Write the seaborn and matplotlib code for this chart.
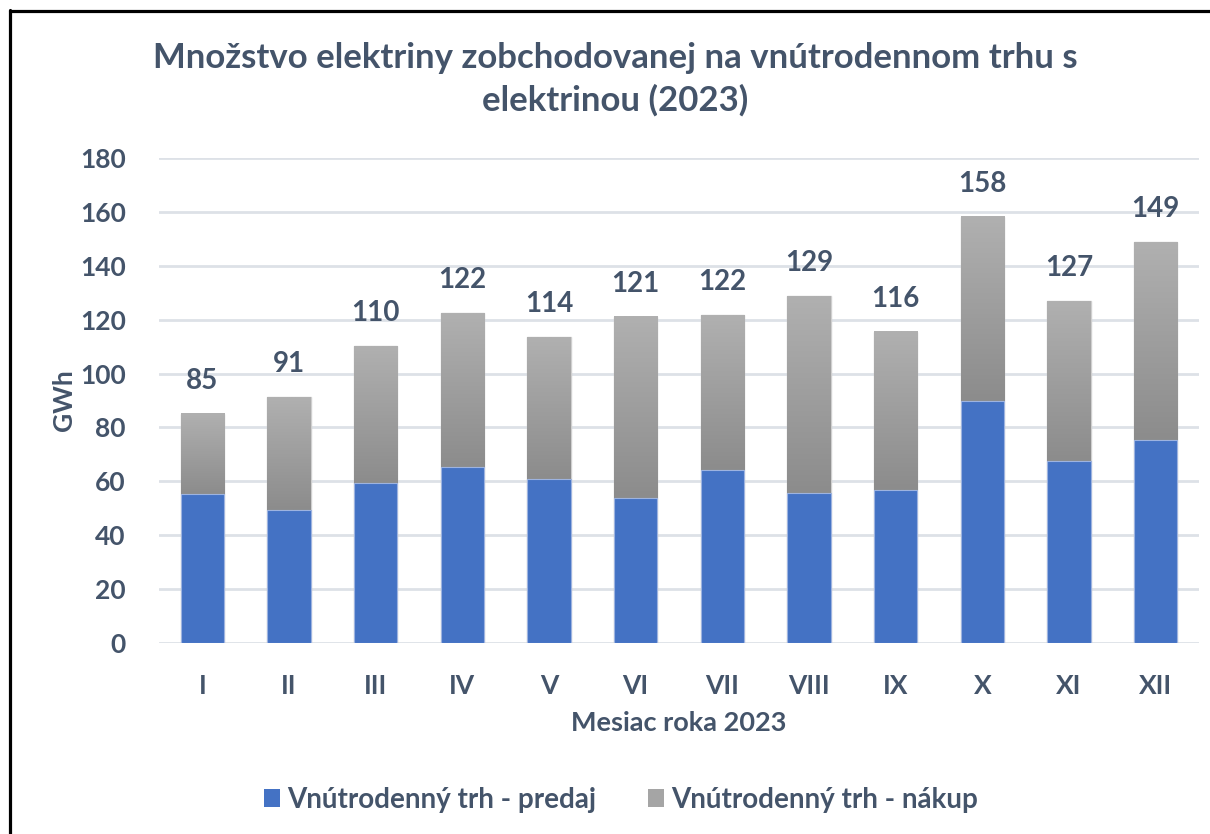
import numpy as np
import pandas as pd
import matplotlib
matplotlib.use("Agg")
import matplotlib.pyplot as plt
import seaborn as sns
from matplotlib.patches import Patch
from matplotlib.lines import Line2D
from matplotlib.colors import LinearSegmentedColormap

# Údaje (GWh) odčítané z grafu
mesiace = ["I", "II", "III", "IV", "V", "VI", "VII", "VIII", "IX", "X", "XI", "XII"]
predaj = [55.2, 49.5, 59.5, 65.3, 60.9, 53.8, 64.2, 55.7, 56.8, 89.8, 67.6, 75.4]
nakup = [29.7, 41.9, 50.8, 57.1, 52.7, 67.3, 57.5, 73.1, 58.8, 68.3, 59.2, 73.4]

df = pd.DataFrame({"mesiac": mesiace, "predaj": predaj, "nakup": nakup})
df["spolu"] = df["predaj"] + df["nakup"]

sns.set_style("white")
plt.rcParams["font.family"] = ["Lato", "DejaVu Sans"]
plt.rcParams["font.weight"] = "bold"

text_col = "#44546A"
blue = "#4472C4"

fig = plt.figure(figsize=(12.1, 8.34), dpi=100)
ax = fig.add_axes([159 / 1210, 191 / 834, 1040 / 1210, 485 / 834])

# celkový stĺpec (nákup navrchu) a predaj dole
sns.barplot(data=df, x="mesiac", y="spolu", color="#a5a5a5", width=0.5,
            saturation=1, ax=ax, zorder=2)
n = len(mesiace)
sns.barplot(data=df, x="mesiac", y="predaj", color=blue, width=0.5,
            saturation=1, ax=ax, zorder=3)

# gradient pre šedú časť
cmap = LinearSegmentedColormap.from_list("g", ["#8c8c8c", "#b0b0b0"])
grad = np.linspace(0, 1, 100).reshape(-1, 1)
for i, p in enumerate(ax.patches[:n]):
    x0, w = p.get_x(), p.get_width()
    p.set_facecolor("none")
    p.set_edgecolor("#cfcfcf")
    p.set_linewidth(1)
    ax.imshow(grad, cmap=cmap, origin="lower", aspect="auto",
              extent=[x0, x0 + w, df["predaj"][i], df["spolu"][i]], zorder=2)
for p in ax.patches[n:]:
    p.set_edgecolor("#9db3e0")
    p.set_linewidth(0.8)
ax.set_ylim(0, 180)
ax.set_xlim(-0.5, n - 0.5)

# popisky súčtov
for i, v in enumerate(df["spolu"]):
    ax.annotate(f"{v:.0f}", (i, v), xytext=(0, 18), textcoords="offset points",
                ha="center", va="baseline", fontsize=20, color=text_col,
                fontweight="bold")

ax.set_yticks(range(0, 181, 20))
ax.grid(axis="y", color="#dde1e7", linewidth=2, zorder=0)
ax.set_axisbelow(True)
sns.despine(ax=ax, left=True, bottom=True)
ax.tick_params(axis="both", length=0, labelsize=19, labelcolor=text_col)
ax.tick_params(axis="y", pad=24)
ax.tick_params(axis="x", pad=22)

ax.set_ylabel("GWh", fontsize=19, color=text_col, fontweight="bold", labelpad=3)
ax.set_xlabel("Mesiac roka 2023", fontsize=19.5, color=text_col, fontweight="bold",
              labelpad=10)

fig.text(615 / 1210, 1 - 58 / 834,
         "Množstvo elektriny zobchodovanej na vnútrodennom trhu s",
         ha="center", va="center", fontsize=25, color=text_col, fontweight="bold")
fig.text(615 / 1210, 1 - 100 / 834, "elektrinou (2023)",
         ha="center", va="center", fontsize=25, color=text_col, fontweight="bold")

handles = [Patch(facecolor=blue, edgecolor="none"),
           Patch(facecolor="#a5a5a5", edgecolor="none")]
fig.legend(handles, ["Vnútrodenný trh - predaj", "Vnútrodenný trh - nákup"],
           loc="center", bbox_to_anchor=(621 / 1210, 34 / 834), ncol=2,
           frameon=False, fontsize=20, labelcolor=text_col,
           handlelength=0.55, handleheight=0.6, handletextpad=0.25,
           columnspacing=1.9)

# čierny rámček vľavo a hore
fig.add_artist(Line2D([10 / 1210, 10 / 1210], [0, 1 - 10 / 834],
                      transform=fig.transFigure, color="black", lw=2.3))
fig.add_artist(Line2D([10 / 1210, 1], [1 - 11 / 834, 1 - 11 / 834],
                      transform=fig.transFigure, color="black", lw=2.3))

fig.savefig("out.png", dpi=100)
